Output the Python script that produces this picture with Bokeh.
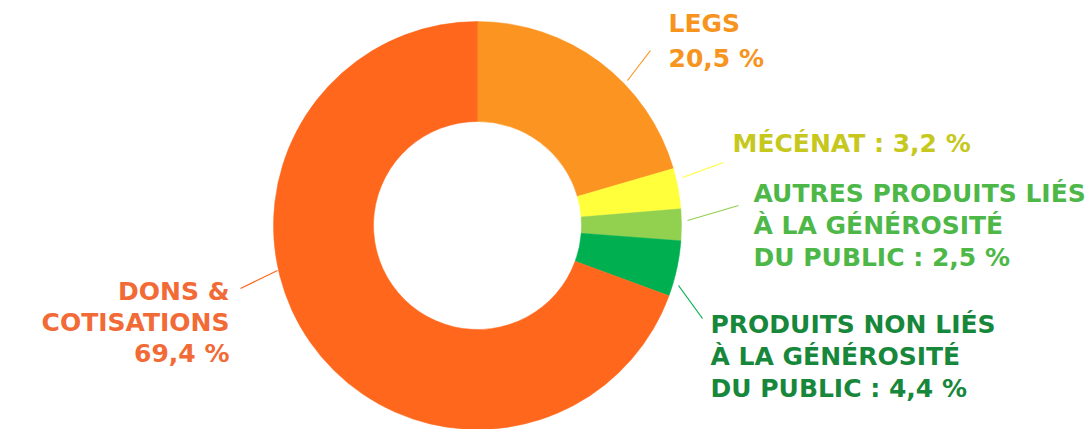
import math
from bokeh.plotting import figure
from bokeh.models import Range1d
from bokeh.core.properties import value
from bokeh.embed import file_html
from bokeh.resources import INLINE

# ---- data ----
categories = ["Legs", "Mécénat", "Autres produits liés à la générosité du public",
              "Produits non liés à la générosité du public", "Dons & cotisations"]
values = [20.5, 3.2, 2.5, 4.4, 69.4]
slice_colors = ["#FC9422", "#FFFF3C", "#92D050", "#00B050", "#FF671C"]
text_colors = ["#F7941D", "#C6C81E", "#4DB848", "#17873B", "#F26A35"]
label_lines = [
    ["LEGS", "20,5 %"],
    ["MÉCÉNAT : 3,2 %"],
    ["AUTRES PRODUITS LIÉS", "À LA GÉNÉROSITÉ", "DU PUBLIC : 2,5 %"],
    ["PRODUITS NON LIÉS", "À LA GÉNÉROSITÉ", "DU PUBLIC : 4,4 %"],
    ["DONS &", "COTISATIONS", "69,4 %"],
]

# ---- layout (pixel coords, y down) ----
W, H = 1090, 429
CX, CY = 477, 225
R_OUT, R_IN = 204, 104
TEXT_SHIFT = -10
label_anchor = [(668, 33, "left"), (732, 153, "left"), (753, 203, "left"),
                (710, 334, "left"), (229, 301, "right")]
line_h = [35, 32, 32, 32, 31]
leaders = [((627, 80), (650, 50)), ((682, 177), (723, 162)), ((687, 220), (738, 205)),
           ((678, 285), (702, 318)), ((277, 270), (240, 288))]

def fy(py):
    return H - py

p = figure(width=W, height=H, x_range=Range1d(0, W), y_range=Range1d(0, H),
           output_backend="svg", toolbar_location=None, min_border=0,
           outline_line_color=None, background_fill_color="white")
p.axis.visible = False
p.grid.visible = False

total = sum(values)
cum = 0.0
starts, ends = [], []
for v in values:
    starts.append(math.pi / 2 - 2 * math.pi * cum / total)
    cum += v
    ends.append(math.pi / 2 - 2 * math.pi * cum / total)

p.annular_wedge(x=[CX] * len(values), y=[fy(CY)] * len(values),
                inner_radius=R_IN, outer_radius=R_OUT,
                start_angle=starts, end_angle=ends, direction="clock",
                fill_color=slice_colors, line_color=slice_colors, line_width=0.5)

for (a, b), c in zip(leaders, slice_colors):
    p.line([a[0], b[0]], [fy(a[1]), fy(b[1])], line_color=c, line_width=1.2)

for lines, (ax, ay, align), lh, col in zip(label_lines, label_anchor, line_h, text_colors):
    xs = [ax] * len(lines)
    ys = [fy(ay + TEXT_SHIFT + i * lh) for i in range(len(lines))]
    p.text(x=xs, y=ys, text=lines, text_color=col, text_align=align,
           text_baseline="alphabetic", text_font=value("DejaVu Sans"),
           text_font_size="25px", text_font_style="bold")

open("out.html", "w").write(file_html(p, INLINE))
